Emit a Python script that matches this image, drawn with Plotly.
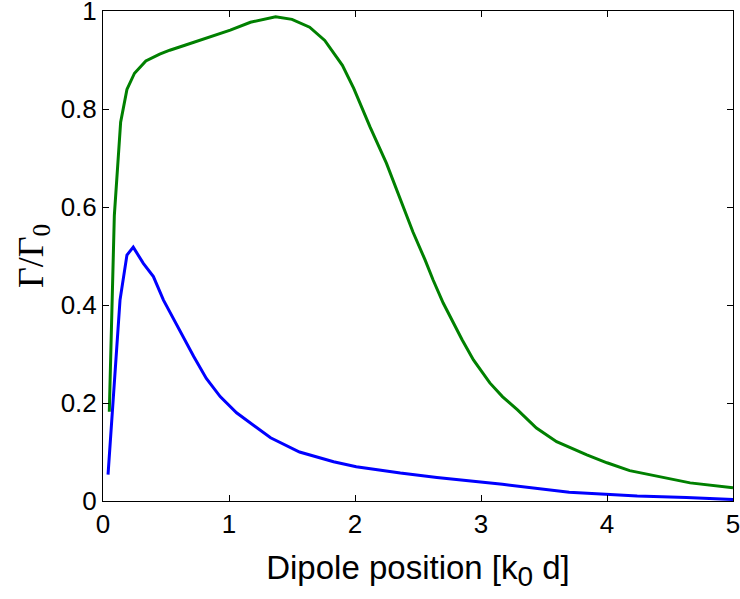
import plotly.graph_objects as go

# Decay rate vs. dipole position, two configurations
x_green = [0.05, 0.09, 0.14, 0.19, 0.25, 0.34, 0.45, 0.53, 0.65, 0.77, 0.9, 1.01,
           1.17, 1.25, 1.37, 1.5, 1.64, 1.76, 1.9, 1.99, 2.12, 2.25, 2.36, 2.46,
           2.556, 2.62, 2.70, 2.78, 2.85, 2.94, 3.07, 3.17, 3.29, 3.44, 3.6, 3.84,
           4.0, 4.18, 4.44, 4.66, 5.0]
y_green = [0.182, 0.583, 0.773, 0.84, 0.873, 0.898, 0.912, 0.92, 0.93, 0.94, 0.952,
           0.961, 0.977, 0.982, 0.988, 0.983, 0.967, 0.94, 0.889, 0.842, 0.763,
           0.689, 0.615, 0.549, 0.492, 0.451, 0.404, 0.364, 0.329, 0.288, 0.241,
           0.213, 0.186, 0.149, 0.121, 0.094, 0.078, 0.062, 0.048, 0.037, 0.027]

x_blue = [0.04, 0.096, 0.135, 0.19, 0.24, 0.32, 0.40, 0.48, 0.59, 0.72, 0.82, 0.93,
          1.06, 1.17, 1.33, 1.56, 1.83, 2.01, 2.36, 2.65, 3.17, 3.70, 4.24, 4.63, 5.0]
y_blue = [0.054, 0.262, 0.41, 0.502, 0.518, 0.485, 0.458, 0.41, 0.356, 0.295, 0.250,
          0.213, 0.180, 0.159, 0.129, 0.100, 0.080, 0.070, 0.057, 0.048, 0.034,
          0.018, 0.010, 0.007, 0.003]

x_ticks = [0, 1, 2, 3, 4, 5]
y_ticks = [0, 0.2, 0.4, 0.6, 0.8, 1]
y_tick_text = ["0", "0.2", "0.4", "0.6", "0.8", "1"]

fig = go.Figure()
fig.add_trace(go.Scatter(x=x_blue, y=y_blue, mode="lines",
                         line=dict(color="#0000ff", width=3), showlegend=False))
fig.add_trace(go.Scatter(x=x_green, y=y_green, mode="lines",
                         line=dict(color="#008000", width=3), showlegend=False))

axis_common = dict(
    showgrid=False, zeroline=False, showline=True, linecolor="black", linewidth=1,
    mirror="ticks", ticks="inside", ticklen=6, tickcolor="black", tickwidth=1,
    ticklabeloverflow="allow",
    tickfont=dict(family="Liberation Sans, Arial", size=26, color="black"),
)

fig.update_layout(
    width=740, height=599,
    margin=dict(l=103, r=7, t=11, b=98),
    paper_bgcolor="white", plot_bgcolor="white",
    xaxis=dict(range=[0, 5], tickvals=x_ticks, automargin=False,
               title=dict(text="Dipole position [k<sub><span style='font-size:28px'>0</span></sub> d]",
                          standoff=17,
                          font=dict(family="Liberation Sans, Arial", size=33, color="black")),
               **axis_common),
    yaxis=dict(range=[0, 1], tickvals=y_ticks, ticktext=y_tick_text, automargin=False,
               title=dict(text="Γ/Γ<sub>0</sub>", standoff=6,
                          font=dict(family="Liberation Serif, Times New Roman", size=36, color="black")),
               **axis_common),
)

fig.write_html("out.html")
